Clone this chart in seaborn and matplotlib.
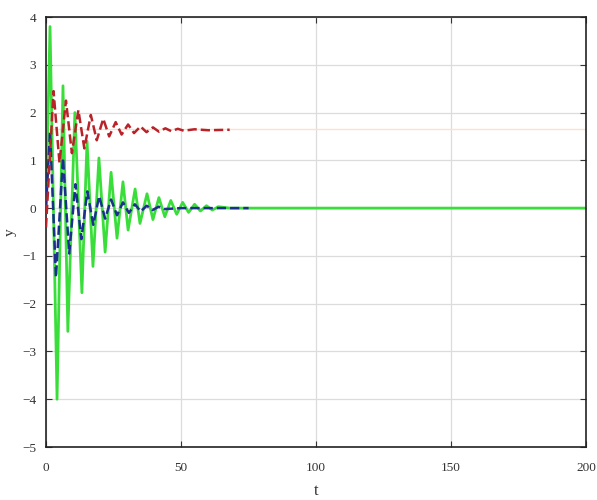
import pandas as pd
import matplotlib
matplotlib.use("Agg")
import matplotlib.pyplot as plt
import seaborn as sns

# turning points
red_t = [0, 2.8, 5.0, 7.4, 9.6, 12.0, 14.2, 16.6, 18.8, 21.2, 23.4, 25.8, 28.0, 30.4, 32.6,
         35.0, 37.2, 39.6, 41.8, 44.2, 46.4, 48.8, 51.0, 55.0, 60.0, 68.0]
red_y = [-0.4, 2.45, 0.95, 2.25, 1.15, 2.05, 1.25, 1.95, 1.42, 1.87, 1.5, 1.8, 1.54, 1.75, 1.57,
         1.71, 1.59, 1.69, 1.6, 1.67, 1.61, 1.66, 1.62, 1.65, 1.63, 1.64]

blue_t = [0, 1.5, 3.7, 6.3, 8.6, 10.9, 13.1, 15.3, 17.5, 19.7, 21.9, 24.1, 26.3, 28.5, 30.7,
          32.9, 35.1, 37.3, 39.5, 41.7, 43.9, 50.0, 75.0]
blue_y = [0, 1.6, -1.45, 1.05, -0.95, 0.5, -0.65, 0.35, -0.35, 0.25, -0.22, 0.18, -0.15, 0.12, -0.1,
          0.08, -0.07, 0.05, -0.04, 0.03, -0.02, 0, 0]

green_t = [0, 1.5, 4.1, 6.3, 8.1, 10.7, 13.3, 15.2, 17.4, 19.6, 21.9, 24.1, 26.3, 28.5, 30.4,
           33.0, 34.8, 37.4, 39.6, 41.8, 44.0, 46.2, 48.4, 50.6, 52.8, 55.0, 57.2, 59.4, 61.6,
           63.8, 68.0, 200.0]
green_y = [0, 3.8, -4.0, 2.56, -2.58, 2.0, -1.77, 1.4, -1.22, 1.05, -0.92, 0.75, -0.63, 0.55, -0.46,
           0.4, -0.32, 0.3, -0.24, 0.22, -0.18, 0.16, -0.13, 0.12, -0.09, 0.08, -0.06, 0.05, -0.04,
           0.03, 0, 0]

red_ref = 1.65
x_ticks = [0, 50, 100, 150, 200]
y_ticks = [-5, -4, -3, -2, -1, 0, 1, 2, 3, 4]

red = pd.DataFrame({'t': red_t, 'y': red_y})
blue = pd.DataFrame({'t': blue_t, 'y': blue_y})
green = pd.DataFrame({'t': green_t, 'y': green_y})

sns.set_style("whitegrid")
plt.rcParams['font.family'] = ['Liberation Serif', 'DejaVu Serif']

fig = plt.figure(figsize=(5.97, 5.0), dpi=100)
ax = fig.add_axes([0.077, 0.106, 0.905, 0.86])

ax.axhline(red_ref, color='#fbe2cc', lw=1.0, zorder=1)
sns.lineplot(data=green, x='t', y='y', ax=ax, color='#3ade3a', lw=2.0, zorder=2)
sns.lineplot(data=blue, x='t', y='y', ax=ax, color='#1c2f8f', lw=1.8, ls='--', zorder=3)
sns.lineplot(data=red, x='t', y='y', ax=ax, color='#b8232a', lw=1.8, ls='--', zorder=3)

ax.set_xlim(0, 200)
ax.set_ylim(-5, 4)
ax.set_xticks(x_ticks)
ax.set_yticks(y_ticks)
ax.grid(True, color='#dcdcdc', lw=0.9)
for s in ax.spines.values():
    s.set_visible(True)
    s.set_color('#222222')
    s.set_linewidth(1.2)
ax.tick_params(direction='in', length=4, labelsize=9.5, colors='#333333', left=True, bottom=True,
               top=True, right=True, labeltop=False, labelright=False)
ax.tick_params(axis='x', pad=11)
ax.tick_params(axis='y', pad=7)
ax.set_xlabel('t', fontsize=12, color='#333333', labelpad=6)
ax.set_ylabel('y', fontsize=11, color='#333333', labelpad=4)

fig.savefig('out.png', dpi=100)
